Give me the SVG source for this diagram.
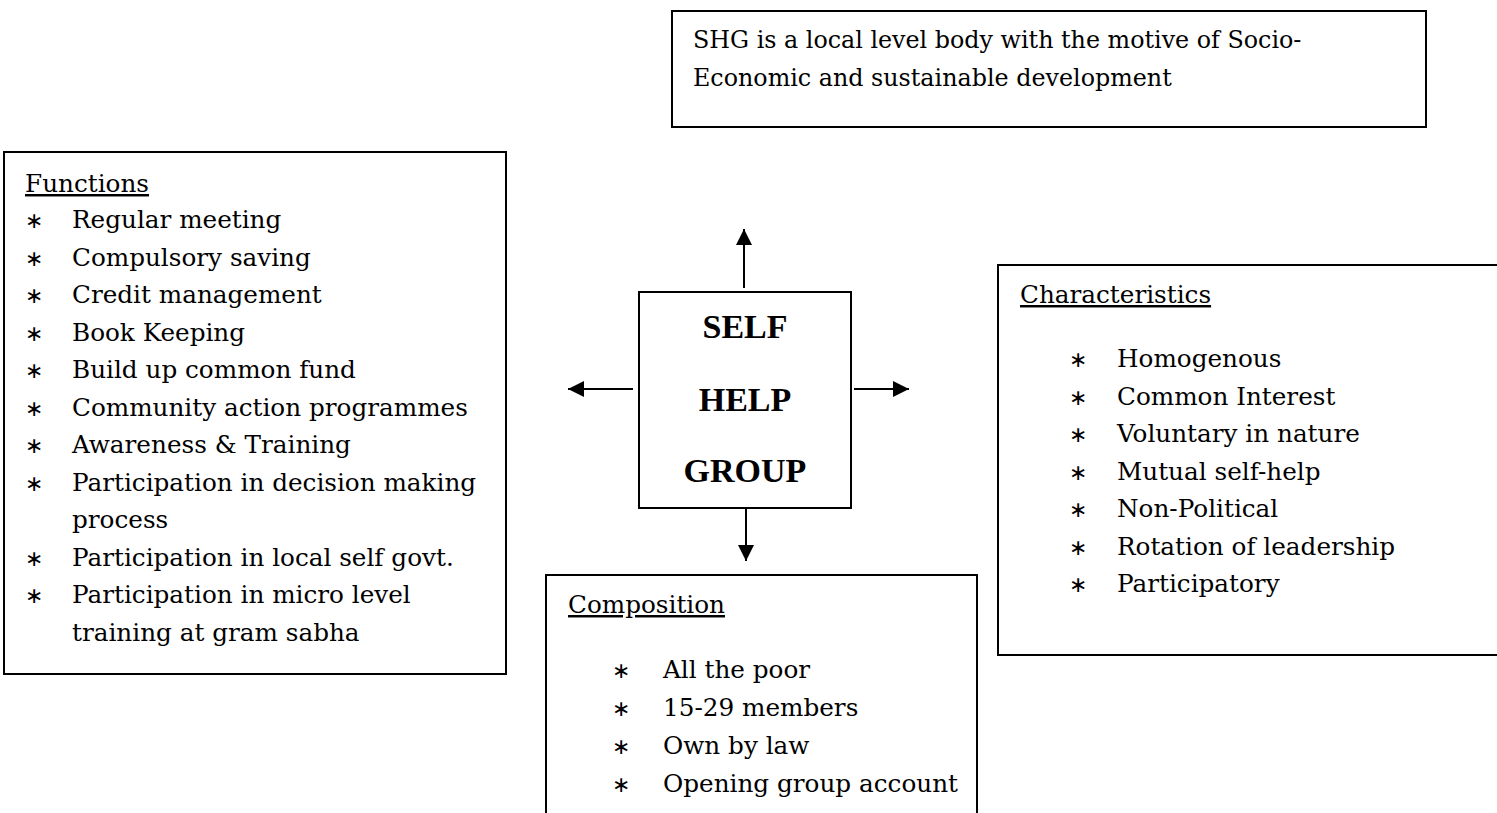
<svg xmlns="http://www.w3.org/2000/svg" width="1497" height="813" viewBox="0 0 1497 813">
<style>
.box{fill:#fff;stroke:#000;stroke-width:2}
.t{font-family:"DejaVu Serif","Liberation Serif",serif;font-size:24.7px;fill:#000}
.s{font-size:23.8px}
.h{text-decoration:underline}
.b{font-family:"DejaVu Sans",sans-serif;font-size:22px;fill:#000}
.big{font-family:"Liberation Serif","DejaVu Serif",serif;font-size:34px;font-weight:bold;fill:#000;text-anchor:middle}
.c{stroke:#000;stroke-width:2;fill:none}
</style>
<defs>
<marker id="ah" markerUnits="userSpaceOnUse" markerWidth="16" markerHeight="16" refX="16" refY="8" orient="auto">
<path d="M0,0 L16,8 L0,16 z" fill="#000"/>
</marker>
</defs>
<rect width="1497" height="813" fill="#fff"/>

<g id="definition">
<rect class="box" x="672" y="11" width="754" height="116"/>
<text class="t s" x="693" y="48">SHG is a local level body with the motive of Socio-</text>
<text class="t s" x="693" y="86">Economic and sustainable development</text>
</g>

<g id="functions">
<rect class="box" x="4" y="152" width="502" height="522"/>
<text class="t h" x="25" y="192">Functions</text>
<g class="b">
<text x="25" y="228">∗</text><text x="25" y="265.5">∗</text><text x="25" y="303">∗</text><text x="25" y="340.5">∗</text><text x="25" y="378">∗</text><text x="25" y="415.5">∗</text><text x="25" y="453">∗</text><text x="25" y="490.5">∗</text><text x="25" y="565.5">∗</text><text x="25" y="603">∗</text>
</g>
<text class="t" x="72" y="228">Regular meeting</text>
<text class="t" x="72" y="265.5">Compulsory saving</text>
<text class="t" x="72" y="303">Credit management</text>
<text class="t" x="72" y="340.5">Book Keeping</text>
<text class="t" x="72" y="378">Build up common fund</text>
<text class="t" x="72" y="415.5">Community action programmes</text>
<text class="t" x="72" y="453">Awareness &amp; Training</text>
<text class="t" x="72" y="490.5">Participation in decision making</text>
<text class="t" x="72" y="528">process</text>
<text class="t" x="72" y="565.5">Participation in local self govt.</text>
<text class="t" x="72" y="603">Participation in micro level</text>
<text class="t" x="72" y="640.5">training at gram sabha</text>
</g>

<g id="shg">
<rect class="box" x="639" y="292" width="212" height="216"/>
<text class="big" x="745" y="338">SELF</text>
<text class="big" x="745" y="411">HELP</text>
<text class="big" x="745" y="482">GROUP</text>
</g>

<g id="characteristics">
<rect class="box" x="998" y="265" width="520" height="390"/>
<text class="t h" x="1020" y="303">Characteristics</text>
<g class="b">
<text x="1069" y="367">∗</text><text x="1069" y="404.5">∗</text><text x="1069" y="442">∗</text><text x="1069" y="479.5">∗</text><text x="1069" y="517">∗</text><text x="1069" y="554.5">∗</text><text x="1069" y="592">∗</text>
</g>
<text class="t" x="1117" y="367">Homogenous</text>
<text class="t" x="1117" y="404.5">Common Interest</text>
<text class="t" x="1117" y="442">Voluntary in nature</text>
<text class="t" x="1117" y="479.5">Mutual self-help</text>
<text class="t" x="1117" y="517">Non-Political</text>
<text class="t" x="1117" y="554.5">Rotation of leadership</text>
<text class="t" x="1117" y="592">Participatory</text>
</g>

<g id="composition">
<rect class="box" x="546" y="575" width="431" height="260"/>
<text class="t h" x="568" y="613">Composition</text>
<g class="b">
<text x="612" y="678">∗</text><text x="612" y="716">∗</text><text x="612" y="754">∗</text><text x="612" y="792">∗</text>
</g>
<text class="t" x="663" y="678">All the poor</text>
<text class="t" x="663" y="716">15-29 members</text>
<text class="t" x="663" y="754">Own by law</text>
<text class="t" x="663" y="792">Opening group account</text>
</g>

<g id="connectors">
<line class="c" x1="744" y1="288" x2="744" y2="229" marker-end="url(#ah)"/>
<line class="c" x1="633" y1="389" x2="568" y2="389" marker-end="url(#ah)"/>
<line class="c" x1="854" y1="389" x2="909" y2="389" marker-end="url(#ah)"/>
<line class="c" x1="746" y1="508" x2="746" y2="561" marker-end="url(#ah)"/>
</g>
</svg>
